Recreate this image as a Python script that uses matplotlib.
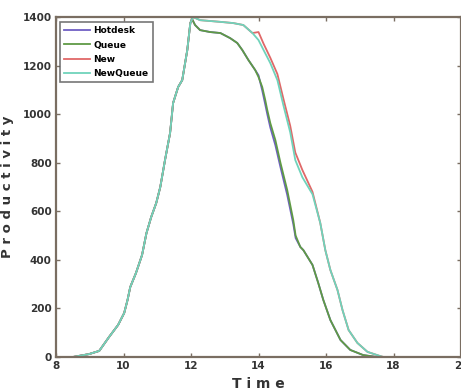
import matplotlib
matplotlib.use("Agg")
import matplotlib.pyplot as plt
import numpy as np

# shared ramp-up (all four policies coincide here)
rise_time = [8.50, 8.98, 9.28, 9.57, 9.84, 10.02, 10.12, 10.20, 10.37, 10.55, 10.68,
             10.82, 10.97, 11.09, 11.23, 11.38, 11.47, 11.62, 11.74, 11.89, 11.98]
rise_prod = [0, 12, 25, 82, 132, 181, 235, 288, 346, 420, 510,
             576, 634, 700, 811, 922, 1046, 1112, 1140, 1264, 1375]

queue_time = [12.03, 12.12, 12.27, 12.57, 12.87, 13.16, 13.37, 13.52, 13.70, 13.90,
              14.00, 14.11, 14.20, 14.26, 14.35, 14.50, 14.65, 14.85, 15.03, 15.10,
              15.24, 15.33, 15.60, 15.77, 15.92, 16.13, 16.43, 16.72, 17.10, 17.50]
queue_prod = [1392, 1367, 1346, 1338, 1334, 1313, 1293, 1264, 1223, 1182,
              1153, 1112, 1058, 1017, 963, 893, 800, 688, 564, 500,
              453, 440, 379, 305, 235, 152, 70, 29, 8, 0]
hotdesk_prod = [1392, 1367, 1346, 1338, 1334, 1313, 1293, 1264, 1223, 1182,
                1160, 1098, 1040, 1000, 945, 872, 782, 668, 548, 490,
                453, 440, 379, 305, 235, 152, 70, 29, 8, 0]

newq_time = [12.06, 12.27, 12.87, 13.25, 13.55, 13.82, 14.00, 14.15, 14.35, 14.56,
             14.74, 14.94, 15.09, 15.30, 15.60, 15.83, 15.98, 16.13, 16.34, 16.49,
             16.67, 16.93, 17.23, 17.60, 17.70]
newq_prod = [1400, 1387, 1380, 1375, 1367, 1334, 1305, 1264, 1210, 1140,
             1035, 925, 811, 740, 670, 552, 440, 358, 276, 193,
             111, 58, 21, 4, 0]
new_prod = [1400, 1387, 1380, 1375, 1367, 1334, 1338, 1290, 1232, 1165,
            1062, 952, 842, 770, 680, 552, 440, 358, 276, 193,
            111, 58, 21, 4, 0]

series = [
    ("Hotdesk", queue_time, hotdesk_prod, "#6f5fc4"),
    ("Queue", queue_time, queue_prod, "#5f9a45"),
    ("New", newq_time, new_prod, "#e06868"),
    ("NewQueue", newq_time, newq_prod, "#6fd3bb"),
]

frame_col = "#7a6e62"

fig = plt.figure(figsize=(4.61, 3.9), dpi=100)
ax = fig.add_axes([56 / 461, 1 - 357 / 390, 405 / 461, 340 / 390])

for name, t, v, col in series:
    ax.plot(np.r_[rise_time, t], np.r_[rise_prod, v], color=col, lw=1.3, label=name)

ax.set_xlim(8, 20)
ax.set_ylim(0, 1400)
ax.set_xticks(range(8, 21, 2))
ax.set_yticks(range(0, 1401, 200))
ax.tick_params(direction="in", top=True, right=True, length=3, width=1,
               color=frame_col, labelsize=7.5, pad=3)
for lab in ax.get_xticklabels() + ax.get_yticklabels():
    lab.set_fontweight("bold")
    lab.set_color("#333333")
for sp in ax.spines.values():
    sp.set_color(frame_col)
    sp.set_linewidth(1.6)

ax.set_xlabel("T i m e", fontsize=10, fontweight="bold", color="#333333", labelpad=4)
ax.set_ylabel("P r o d u c t i v i t y", fontsize=9.5, fontweight="bold",
              color="#333333", labelpad=6)

leg = ax.legend(loc="upper left", bbox_to_anchor=(0.01, 0.985), borderaxespad=0,
                fancybox=False, prop={"size": 6.5, "weight": "bold"},
                handlelength=2.9, handletextpad=0.35, labelspacing=0.6,
                borderpad=0.45)
leg.get_frame().set_edgecolor("#555555")
leg.get_frame().set_linewidth(1.2)

fig.savefig("out.png", dpi=100)
